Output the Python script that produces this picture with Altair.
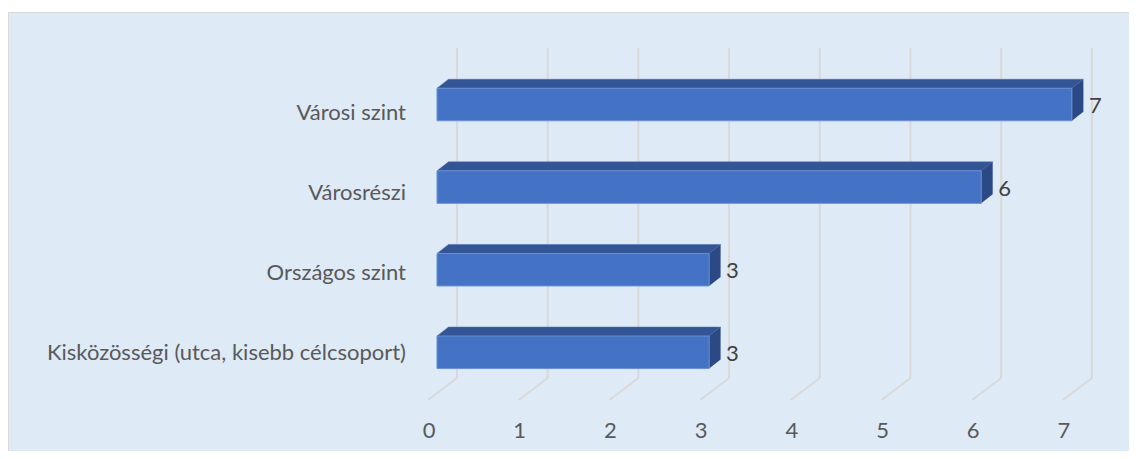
import altair as alt
import pandas as pd

# ---- data ----
categories = ["Városi szint", "Városrészi", "Országos szint",
              "Kisközösségi (utca, kisebb célcsoport)"]
values = [7, 6, 3, 3]
ticks = [0, 1, 2, 3, 4, 5, 6, 7]

# ---- layout / style constants ----
W, H = 1121, 443
PX_X = 90.7          # pixels per value unit
X0_PX = 429          # pixel (chart coords) of value 0, front face
PX_Y = 82.6          # pixels between bar centers
Y0_PX = 96.5         # pixel (chart coords) of first bar center
XMIN = -X0_PX / PX_X
XMAX = XMIN + W / PX_X
YMIN = -Y0_PX / PX_Y
YMAX = YMIN + H / PX_Y
HALF = 16.25 / PX_Y          # half thickness of bar front
DX = 11.5 / PX_X             # depth offset (x)
DY = 9.0 / PX_Y              # depth offset (y, upward)

FRONT = "#4472C4"
TOP = "#335595"
SIDE = "#2B4A85"
GRID = "#D9D9D9"
BG = "#DEEAF6"
FONT = "Lato"
FS = 22

idx = list(range(len(categories)))

bars = pd.DataFrame({"cat": categories, "i": idx, "v": values})
bars["y_lo"] = bars["i"] - HALF
bars["y_hi"] = bars["i"] + HALF

top_rows, side_rows = [], []
for c, i, v in zip(categories, idx, values):
    top_rows.append({"i": i, "yv": i - HALF, "xa": 0.0, "xb": v})
    top_rows.append({"i": i, "yv": i - HALF - DY, "xa": DX, "xb": v + DX})
    side_rows.append({"i": i, "xv": v, "ya": i - HALF, "yb": i + HALF})
    side_rows.append({"i": i, "xv": v + DX, "ya": i - HALF - DY, "yb": i + HALF - DY})
top_df = pd.DataFrame(top_rows)
side_df = pd.DataFrame(side_rows)
tick_df = pd.DataFrame({"t": ticks})

xs = alt.Scale(domain=[XMIN, XMAX], nice=False, zero=False)
ys = alt.Scale(domain=[YMIN, YMAX], nice=False, zero=False, reverse=True)

# background pieces
bg_strip = alt.Chart(pd.DataFrame({"a": [0]})).mark_rect(color="white").encode(
    x=alt.value(0), x2=alt.value(W), y=alt.value(0), y2=alt.value(4))
border_top = alt.Chart(pd.DataFrame({"a": [0]})).mark_rule(color=GRID, strokeWidth=1).encode(
    x=alt.value(0), x2=alt.value(W), y=alt.value(4.5))
border_left = alt.Chart(pd.DataFrame({"a": [0]})).mark_rule(color=GRID, strokeWidth=1).encode(
    x=alt.value(0.5), y=alt.value(4), y2=alt.value(H))

# gridlines (back wall + floor)
grid_back = alt.Chart(tick_df).mark_rule(color=GRID, strokeWidth=2, xOffset=20).encode(
    x=alt.X("t:Q", scale=xs, axis=None), y=alt.value(40), y2=alt.value(370))
grid_floor = alt.Chart(tick_df).mark_rule(color=GRID, strokeWidth=2, xOffset=20, x2Offset=-9).encode(
    x=alt.X("t:Q", scale=xs, axis=None), x2="t:Q", y=alt.value(370), y2=alt.value(392))
tick_labels = alt.Chart(tick_df).mark_text(
    font=FONT, fontSize=FS, color="#595959", baseline="alphabetic", align="center", dx=-8
).encode(x=alt.X("t:Q", scale=xs, axis=None), y=alt.value(430), text="t:Q")

# bar faces
front = alt.Chart(bars).mark_rect(color=FRONT, stroke="#6A8FD6", strokeWidth=1).encode(
    x=alt.X("zero:Q", scale=xs, axis=None), x2="v:Q",
    y=alt.Y("y_lo:Q", scale=ys, axis=None), y2="y_hi:Q"
).transform_calculate(zero="0")
top = alt.Chart(top_df).mark_area(orient="horizontal", color=TOP, stroke="#4A6CB0", strokeWidth=0.5).encode(
    y=alt.Y("yv:Q", scale=ys, axis=None),
    x=alt.X("xa:Q", scale=xs, axis=None, stack=None), x2="xb:Q",
    detail="i:N")
side = alt.Chart(side_df).mark_area(orient="vertical", color=SIDE).encode(
    x=alt.X("xv:Q", scale=xs, axis=None),
    y=alt.Y("ya:Q", scale=ys, axis=None, stack=None), y2="yb:Q",
    detail="i:N")

value_labels = alt.Chart(bars).mark_text(
    font=FONT, fontSize=FS, color="#404040", align="left", baseline="alphabetic", dx=17, dy=8.5
).encode(x=alt.X("v:Q", scale=xs, axis=None),
         y=alt.Y("i:Q", scale=ys, axis=None), text="v:Q")

cat_labels = alt.Chart(bars).mark_text(
    font=FONT, fontSize=FS, color="#595959", align="right", baseline="alphabetic"
).encode(x=alt.value(398),
         y=alt.Y("cat:N", sort=categories, axis=None,
                 scale=alt.Scale(type="point", range=[112, 352], padding=0)),
         text="cat:N")

chart = alt.layer(
    bg_strip, border_top, border_left, grid_back, grid_floor, tick_labels,
    top, side, front, value_labels, cat_labels
).resolve_scale(y="independent").properties(
    width=W, height=H, padding=0, background=BG,
    autosize=alt.AutoSizeParams(type="none")
).configure_view(stroke=None)

chart.save("out.html", embed_options={"renderer": "svg", "actions": False})
